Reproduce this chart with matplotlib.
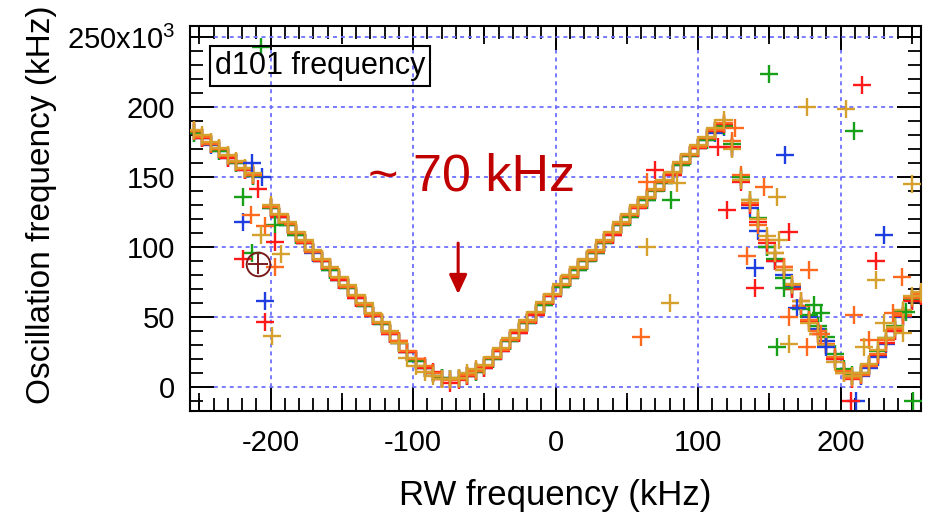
import numpy as np
import matplotlib
matplotlib.use("Agg")
import matplotlib.pyplot as plt
from matplotlib.ticker import MultipleLocator, FixedLocator

plt.rcParams['font.family'] = ['Liberation Sans', 'DejaVu Sans']
plt.rcParams['mathtext.fontset'] = 'custom'
plt.rcParams['mathtext.rm'] = 'Liberation Sans'
plt.rcParams['mathtext.it'] = 'Liberation Sans:italic'
plt.rcParams['mathtext.bf'] = 'Liberation Sans:bold'

nan = np.nan

# RW frequency sweep (kHz)
rw_khz = [-254, -248, -242, -236, -230, -224, -218, -212, -206,
          -200, -194, -188, -182, -176, -170, -164, -158, -152, -146, -140,
          -134, -128, -122, -116, -110, -104, -98, -92, -86, -80,
          -74, -68, -62, -56, -50, -44, -38, -32, -26, -20, -14, -8, -2,
          4, 10, 16, 22, 28, 34, 40, 46, 52, 58, 64, 70, 76, 82, 88, 94,
          100, 106, 112, 118,
          124, 130, 136, 142, 148, 154, 160, 166, 172, 178, 184, 190, 196,
          202, 208, 214, 220, 226, 232, 238, 244, 250, 256]

# Oscillation frequency of each run (kHz)
blue_khz = [182, 178, 173, 169, 164, 160, 155, 151, 150,
            128, 122, 116, 109, 103, 96, 90, 84, 77, 71, 64, 58, 51, 45, 38, 32, 25, 19, 14, 10, 7,
            6, 6, 8, 11, 14, 20, 26, 33, 39, 46, 52, 59, 65,
            72, 78, 84, 90, 96, 103, 109, 116, 122, 128, 134, 141, 146, 152, 159, 165, 171, 177, 182, 186,
            171, 148, 128, 112, 100, 90, 80, 72, 58, 50, 42, 33, 20, 12, 8, 8, 14, 22, 31, 40, 50, 62, 65]
green_khz = [182, 178, 174, 169, 165, 160, 156, 151, nan,
             128, 122, 116, 109, 103, 97, 90, 84, 77, 71, 65, 58, 51, 45, 39, 32, 25, 19, 14, 10, 7,
             6, 7, 8, 11, 15, 20, 27, 33, 40, 46, 53, 59, 66,
             72, 78, 84, 90, 96, 103, 110, 116, 122, 129, 134, 140, 146, 153, 159, 165, 171, 177, 183, 187,
             174, 150, 134, 121, 100, 92, 78, 70, 56, 52, 44, 36, 24, 13, 9, 10, 16, 26, 35, 44, 54, 63, 66]
red_khz = [183, 178, 174, 170, 164, 161, 155, 152, nan,
           129, 122, 117, 110, 103, 97, 90, 85, 77, 72, 64, 59, 51, 46, 38, 33, 25, 20, 14, 11, 6,
           3, 5, 8, 12, 14, 21, 26, 34, 39, 47, 52, 60, 65,
           73, 79, 85, 91, 97, 104, 109, 117, 123, 128, 135, 141, 147, 152, 160, 166, 171, 178, 183, 188,
           172, 147, 130, 118, 103, 90, 86, 70, 62, 47, 38, 30, 20, 10, 6, 9, 15, 23, 32, 40, 51, 62, 65]
orange_khz = [183, 179, 174, 170, 165, 161, 156, 152, nan,
              129, 123, 117, 110, 104, 97, 91, 85, 78, 72, 65, 59, 52, 46, 39, 33, 26, 20, 15, 10, 6,
              5, 6, 9, 12, 15, 21, 27, 34, 40, 47, 53, 60, 66,
              73, 79, 85, 91, 97, 104, 110, 117, 123, 129, 135, 141, 147, 153, 160, 166, 172, 178, 184, 189,
              176, 152, 132, 116, 105, 96, 86, 73, 58, 48, 40, 31, 22, 12, 7, 9, 15, 24, 34, 42, 52, 64, 67]
gold_khz = [184, 180, 175, 171, 166, 162, 157, 153, nan,
            130, 124, 118, 111, 105, 98, 92, 86, 79, 73, 66, 60, 53, 47, 40, 32, 21, 15, 11, 8, 6,
            6, 7, 10, 13, 16, 22, 28, 35, 41, 48, 54, 61, 67,
            74, 80, 86, 92, 98, 105, 111, 118, 124, 130, 136, 142, 148, 154, 161, 167, 173, 179, 185, 191,
            170, 148, 134, 120, 108, 96, 84, 74, 62, 46, 38, 30, 18, 10, 8, 10, 17, 27, 35, 43, 55, 65, 68]

# Off-branch detections of each run (RW kHz, oscillation kHz)
blue_off_x = [-213, -219, -204, 161, 230, 211, 140, 169, 190]
blue_off_y = [160, 118, 62, 166, 109, -10, 85, 57, 29]
green_off_x = [-207, -219, -197, -213, 81, 160, 155, 209, 150, 251, 246, 181, 186]
green_off_y = [243, 136, 116, 96, 134, 71, 29, 183, 224, -10, 54, 59, 53]
red_off_x = [-209, -197, -219, -204, 70, 120, 114, 164, 140, 225, 215, 207]
red_off_y = [142, 104, 92, 47, 155, 127, 172, 111, 71, 90, 216, -10]
orange_off_x = [-214, -204, -197, 64, 60, 126, 146, 134, 178, 209, 243, 237, 164, 176, 186, 220]
orange_off_y = [123, 115, 86, 147, 36, 185, 143, 94, 84, 52, 79, 53, 50, 29, 38, 34]
gold_off_x = [-207, -193, -199, 85, 64, 80, 155, 157, 164, 176, 204, 225, 250, 230, 216, 244]
gold_off_y = [109, 95, 37, 146, 100, 60, 136, 105, 31, 200, 199, 77, 145, 46, 29, 39]

# Marked event
marked_x = [-209]
marked_y = [88]

runs = [
    (blue_khz, blue_off_x, blue_off_y, '#1e3ee0'),
    (green_khz, green_off_x, green_off_y, '#18a018'),
    (red_khz, red_off_x, red_off_y, '#ff1a1a'),
    (orange_khz, orange_off_x, orange_off_y, '#ff6a1e'),
    (gold_khz, gold_off_x, gold_off_y, '#d6a02c'),
]

fig = plt.figure(figsize=(9.26, 5.15), dpi=100)
ax = fig.add_axes([0.2052, 0.2019, 0.7894, 0.7476])

mk = dict(marker='+', linestyle='none', markersize=13.5, markeredgewidth=1.7)
for vals, ox, oy, col in runs:
    ax.plot(rw_khz, vals, color=col, zorder=3, **mk)
for vals, ox, oy, col in runs:
    ax.plot(ox, oy, color=col, zorder=3, **mk)

ax.plot(marked_x, marked_y, marker='o', markersize=17, fillstyle='none',
        markeredgewidth=1.4, color='#7a1c1c', linestyle='none', zorder=4)
ax.plot(marked_x, marked_y, marker='+', markersize=15, markeredgewidth=1.4,
        color='#7a1c1c', linestyle='none', zorder=4)

ax.set_xlim(-256.5, 256.3)
ax.set_ylim(-16.9, 258.1)

# ticks
ax.xaxis.set_major_locator(FixedLocator([-200, -100, 0, 100, 200]))
ax.xaxis.set_minor_locator(MultipleLocator(10))
ax.yaxis.set_major_locator(FixedLocator([0, 50, 100, 150, 200, 250]))
ax.yaxis.set_minor_locator(MultipleLocator(10))
ax.set_xticklabels(['-200', '-100', '0', '100', '200'])
ax.set_yticklabels(['0', '50', '100', '150', '200', '250x10$^{3}$'])

ax.tick_params(which='both', direction='in', top=True, right=True, color='black')
ax.tick_params(which='major', length=17, width=1.4, labelsize=21)
ax.tick_params(which='minor', length=9.5, width=1.3)
ax.tick_params(axis='x', which='major', pad=13)
ax.tick_params(axis='y', which='major', pad=10.5)

# intermediate ticks at the odd multiples of 50 kHz
for side in ('bottom', 'top'):
    sec = ax.secondary_xaxis(side)
    sec.xaxis.set_major_locator(FixedLocator([-250, -150, -50, 50, 150, 250]))
    sec.tick_params(direction='in', length=13, width=1.3, labelbottom=False,
                    labeltop=False)
    for sp in sec.spines.values():
        sp.set_visible(False)

for sp in ax.spines.values():
    sp.set_linewidth(1.5)
    sp.set_color('black')

ax.grid(True, which='major', color='#6e6eff', linestyle=(0, (2.2, 2.2)),
        linewidth=1.3, zorder=1)
ax.set_axisbelow(True)

ax.text(0.034, 0.896, 'd101 frequency', transform=ax.transAxes, fontsize=22,
        ha='left', va='center', zorder=5,
        bbox=dict(boxstyle='square,pad=0.15', fc='none', ec='black', lw=1.5))

ax.text(-131.7, 140.4, '~ 70 kHz', color='#c00000', fontsize=37.5,
        ha='left', va='baseline', zorder=5)
ax.annotate('', xy=(-68.4, 66.6), xytext=(-68.4, 103),
            arrowprops=dict(arrowstyle='-|>,head_length=0.58,head_width=0.27',
                            mutation_scale=20, lw=2.2, color='#c00000',
                            shrinkA=0, shrinkB=0), zorder=5)

fig.text(555.5 / 926, 1 - 496 / 515, 'RW frequency (kHz)', fontsize=25,
         ha='center', va='center')
fig.text(42 / 926, 1 - 205 / 515, 'Oscillation frequency (kHz)', fontsize=24,
         rotation=90, ha='center', va='center')

fig.savefig('out.png', dpi=100)
